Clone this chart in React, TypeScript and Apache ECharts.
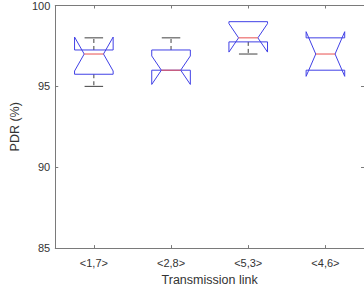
import React, { useEffect, useRef } from "react";
import * as echarts from "echarts";

const categories = ["<1,7>", "<2,8>", "<5,3>", "<4,6>"];
const lowerWhisker = [95, 96, 97, 96];
const q1 = [95.75, 96, 97.75, 96];
const median = [97, 96, 98, 97];
const q3 = [97.25, 97.25, 99, 98];
const upperWhisker = [98, 98, 99, 98];
const notchLow = [95.95, 95.12, 97.12, 95.62];
const notchHigh = [98.05, 96.88, 98.88, 98.38];
const yTicks = [85, 90, 95, 100];

const BLUE = "#4040e6";
const RED = "#e85050";
const WHISK = "#404040";
const AXIS = "#7a7a7a";
const FONT = "'Liberation Sans', Arial, sans-serif";

export default function App() {
  const ref = useRef<HTMLDivElement>(null);
  useEffect(() => {
    document.body.style.margin = "0";
    if (!ref.current) return;
    const chart = echarts.init(ref.current, undefined, { renderer: "svg" });
    const data = categories.map((_, i) => [
      i,
      lowerWhisker[i],
      q1[i],
      median[i],
      q3[i],
      upperWhisker[i],
      notchLow[i],
      notchHigh[i],
    ]);
    const renderItem = (params: any, api: any) => {
      const idx = api.value(0);
      const lw = api.value(1);
      const a = api.value(2);
      const m = api.value(3);
      const b = api.value(4);
      const uw = api.value(5);
      const nl = api.value(6);
      const nh = api.value(7);
      const band = api.size([1, 0])[0];
      const cx = api.coord([idx, m])[0];
      const hw = band * 0.25;
      const nw = hw * 0.5;
      const cw = band * 0.12;
      const y = (v: number) => api.coord([idx, v])[1];
      const L = cx - hw;
      const R = cx + hw;
      const children: any[] = [];
      if (uw > b) {
        children.push({
          type: "line",
          shape: { x1: cx, y1: y(b), x2: cx, y2: y(uw) },
          style: { stroke: WHISK, lineWidth: 1, lineDash: [4, 3] },
        });
        children.push({
          type: "line",
          shape: { x1: cx - cw, y1: y(uw), x2: cx + cw, y2: y(uw) },
          style: { stroke: WHISK, lineWidth: 1 },
        });
      }
      if (lw < a) {
        children.push({
          type: "line",
          shape: { x1: cx, y1: y(a), x2: cx, y2: y(lw) },
          style: { stroke: WHISK, lineWidth: 1, lineDash: [4, 3] },
        });
        children.push({
          type: "line",
          shape: { x1: cx - cw, y1: y(lw), x2: cx + cw, y2: y(lw) },
          style: { stroke: WHISK, lineWidth: 1 },
        });
      }
      children.push({
        type: "polygon",
        shape: {
          points: [
            [L, y(a)],
            [L, y(nl)],
            [cx - nw, y(m)],
            [L, y(nh)],
            [L, y(b)],
            [R, y(b)],
            [R, y(nh)],
            [cx + nw, y(m)],
            [R, y(nl)],
            [R, y(a)],
          ],
        },
        style: { fill: "none", stroke: BLUE, lineWidth: 1 },
      });
      children.push({
        type: "line",
        shape: { x1: cx - nw, y1: y(m), x2: cx + nw, y2: y(m) },
        style: { stroke: RED, lineWidth: 1 },
      });
      return { type: "group", children };
    };
    const tickCommon = { show: true, inside: true, length: 3, lineStyle: { color: AXIS } };
    chart.setOption({
      animation: false,
      textStyle: { fontFamily: FONT },
      grid: { left: 50, top: 5, width: 317, height: 247, containLabel: false },
      xAxis: [
        {
          type: "category",
          data: categories,
          position: "bottom",
          axisLine: { show: true, lineStyle: { color: AXIS } },
          axisTick: { ...tickCommon, alignWithLabel: true },
          axisLabel: { fontSize: 11, color: "#333", margin: 9, fontFamily: FONT },
          name: "Transmission link",
          nameLocation: "middle",
          nameGap: 24,
          nameTextStyle: { fontSize: 12.5, color: "#333", fontFamily: FONT },
          splitLine: { show: false },
        },
        {
          type: "category",
          data: categories,
          position: "top",
          axisLine: { show: true, lineStyle: { color: AXIS } },
          axisTick: { ...tickCommon, alignWithLabel: true },
          axisLabel: { show: false },
          splitLine: { show: false },
        },
      ],
      yAxis: [
        {
          type: "value",
          min: yTicks[0],
          max: yTicks[yTicks.length - 1],
          interval: 5,
          position: "left",
          axisLine: { show: true, lineStyle: { color: AXIS } },
          axisTick: tickCommon,
          axisLabel: { fontSize: 11, color: "#333", margin: 5, fontFamily: FONT },
          splitLine: { show: false },
          name: "PDR (%)",
          nameLocation: "middle",
          nameRotate: 90,
          nameGap: 24,
          nameTextStyle: { fontSize: 12.5, color: "#333", fontFamily: FONT },
        },
        {
          type: "value",
          min: yTicks[0],
          max: yTicks[yTicks.length - 1],
          interval: 5,
          position: "right",
          axisLine: { show: true, lineStyle: { color: AXIS } },
          axisTick: tickCommon,
          axisLabel: { show: false },
          splitLine: { show: false },
        },
      ],
      series: [
        {
          type: "custom",
          renderItem,
          data,
          encode: { x: 0, y: [1, 2, 3, 4, 5, 6, 7] },
          clip: false,
        },
      ],
    });
    return () => chart.dispose();
  }, []);
  return <div ref={ref} style={{ width: 364, height: 291 }} />;
}
